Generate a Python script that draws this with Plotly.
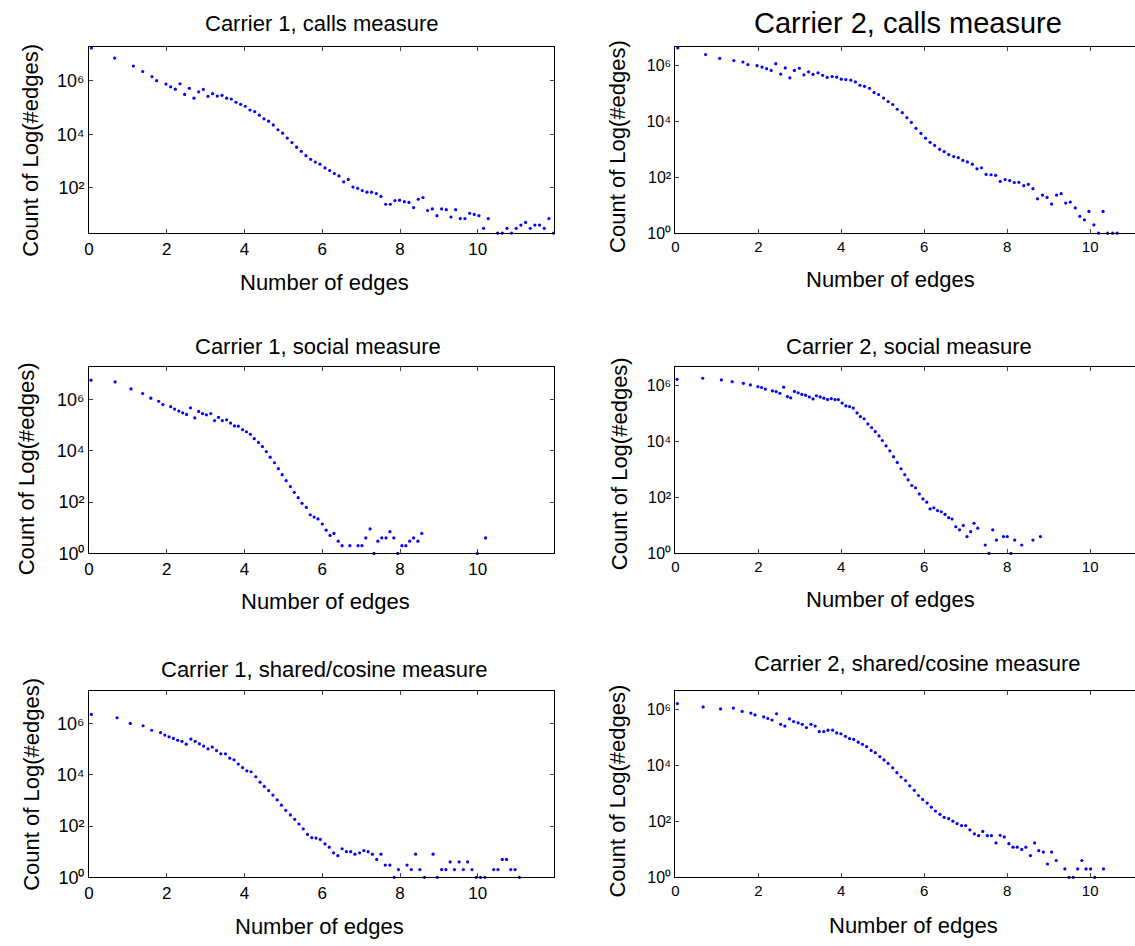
import plotly.graph_objects as go

W, H = 1135, 946
FONT = "Liberation Sans, Arial, Helvetica, sans-serif"

# ---------------- data (histogram of log(#edges): bin centre, count) ----------------
c1_calls_x = [0.06, 0.66, 1.14, 1.38, 1.62, 1.74, 1.98, 2.10, 2.22, 2.34, 2.46, 2.58, 2.70, 2.82, 2.94,
              3.06, 3.18, 3.30, 3.42, 3.54, 3.66, 3.78, 3.90, 4.02, 4.14, 4.26, 4.38, 4.50, 4.62, 4.74,
              4.86, 4.98, 5.10, 5.22, 5.34, 5.46, 5.58, 5.70, 5.82, 5.94, 6.07, 6.19, 6.31, 6.43, 6.55,
              6.67, 6.79, 6.91, 7.03, 7.15, 7.27, 7.39, 7.51, 7.63, 7.75, 7.87, 7.99, 8.11, 8.23, 8.35,
              8.47, 8.59, 8.71, 8.83, 8.95, 9.07, 9.19, 9.31, 9.43, 9.55, 9.67, 9.79, 9.91, 10.03, 10.15,
              10.27, 10.51, 10.63, 10.75, 10.87, 10.99, 11.11, 11.23, 11.35, 11.47, 11.59, 11.71, 11.83, 11.95]
c1_calls_n = [17000000, 7100000, 3600000, 2240000, 1450000, 1020000, 760000, 600000, 490000, 780000,
              310000, 525000, 224000, 389000, 479000, 263000, 331000, 269000, 288000, 224000,
              209000, 158000, 132000, 112000, 81000, 71000, 52000, 38000, 31000, 22400,
              14800, 11000, 7200, 4900, 3300, 2300, 1580, 1150, 910, 760,
              550, 440, 340, 275, 166, 204, 106, 95, 78, 68,
              68, 60, 47, 24, 24, 33, 34, 30, 28, 18,
              37, 43, 14, 16, 9, 16, 15, 8, 15, 7,
              7, 11, 10, 9, 3, 7,
              2, 2, 3, 2, 3, 4, 5, 3, 4, 4, 3, 7, 2]

c2_calls_x = [0.06, 0.73, 1.07, 1.41, 1.63, 1.75, 1.97, 2.09, 2.20, 2.31, 2.42, 2.54, 2.65, 2.76, 2.87,
              2.99, 3.10, 3.21, 3.32, 3.44, 3.55, 3.66, 3.78, 3.89, 4.00, 4.11, 4.23, 4.34, 4.45, 4.56,
              4.68, 4.79, 4.90, 5.02, 5.13, 5.24, 5.35, 5.47, 5.58, 5.69, 5.80, 5.92, 6.03, 6.14, 6.25,
              6.37, 6.48, 6.59, 6.71, 6.82, 6.93, 7.04, 7.16, 7.27, 7.38, 7.49, 7.61, 7.72, 7.83, 7.95,
              8.06, 8.17, 8.28, 8.40, 8.51, 8.62, 8.73, 8.85, 8.96, 9.07, 9.19, 9.30, 9.41, 9.52, 9.64,
              9.75, 9.86, 9.97, 10.09, 10.20, 10.31, 10.42, 10.54, 10.65]
c2_calls_n = [4200000, 2450000, 1780000, 1480000, 1320000, 1070000,
              980000, 870000, 760000, 660000, 1150000, 490000, 810000, 360000, 660000,
              790000, 460000, 590000, 480000, 540000, 440000, 370000, 400000, 380000, 320000,
              310000, 295000, 257000, 195000, 178000, 151000, 107000, 91000, 68000, 51000,
              40000, 27000, 20400, 13500, 9100, 5600, 3700, 2500, 1780, 1380,
              1000, 830, 645, 550, 500, 400, 355, 295, 200, 219,
              126, 123, 117, 71, 83, 76, 65, 66, 50, 56,
              39, 17, 23, 19, 11, 23, 26, 12, 13, 8,
              4, 3, 6, 2, 1, 6, 1, 1, 1]

c1_social_x = [0.05, 0.67, 1.08, 1.38, 1.59, 1.79, 1.90, 2.10, 2.20, 2.31, 2.41, 2.51, 2.61, 2.72, 2.82,
               2.92, 3.02, 3.13, 3.23, 3.33, 3.43, 3.54, 3.64, 3.74, 3.84, 3.95, 4.05, 4.15, 4.25, 4.36,
               4.46, 4.56, 4.66, 4.77, 4.87, 4.97, 5.07, 5.18, 5.28, 5.38, 5.48, 5.59, 5.69, 5.79, 5.89,
               6.00, 6.10, 6.20, 6.30, 6.41, 6.51, 6.71, 6.92, 7.02, 7.12, 7.23, 7.33, 7.43, 7.53, 7.64,
               7.74, 7.84, 7.94, 8.05, 8.15, 8.25, 8.35, 8.46, 8.56, 9.99, 10.20]
c1_social_n = [5600000, 4800000, 2570000, 1700000, 1120000, 850000, 630000,
               520000, 420000, 350000, 300000, 260000, 470000, 190000, 340000, 280000, 250000,
               280000, 150000, 200000, 150000, 160000, 120000, 93000, 91000, 66000, 55000,
               44000, 29500, 21000, 14500, 9300, 5600, 3400, 2000, 1170, 680,
               400, 240, 148, 89, 62, 32, 26, 22, 14, 8,
               5, 6, 3, 2, 2,
               2, 2, 4, 9, 1, 3, 4, 4, 7, 4, 1, 2, 2, 3, 4, 3, 6,
               1, 4]

c2_social_x = [0.04, 0.66, 1.11, 1.37, 1.64, 1.81, 1.99, 2.08, 2.17, 2.34, 2.43, 2.52, 2.61, 2.70, 2.78,
               2.87, 2.96, 3.05, 3.14, 3.23, 3.32, 3.40, 3.49, 3.58, 3.67, 3.76, 3.85, 3.93, 4.02, 4.11,
               4.20, 4.29, 4.38, 4.46, 4.55, 4.64, 4.73, 4.82, 4.91, 4.99, 5.08, 5.17, 5.26, 5.35, 5.44,
               5.53, 5.61, 5.70, 5.79, 5.88, 5.97, 6.06, 6.14, 6.23, 6.32, 6.41, 6.50, 6.59, 6.67, 6.76,
               6.85, 6.94, 7.03, 7.12, 7.20, 7.29, 7.47, 7.56, 7.65, 7.74, 7.91, 8.00, 8.09, 8.18, 8.35,
               8.62, 8.80]
c2_social_n = [1700000, 1860000, 1620000, 1410000, 1230000, 1070000, 930000, 870000, 760000,
               660000, 620000, 540000, 890000, 410000, 370000, 630000, 560000, 490000, 460000,
               400000, 340000, 440000, 400000, 360000, 320000, 350000, 320000, 320000, 240000,
               190000, 180000, 160000, 107000, 79000, 66000, 43000, 32000, 23000, 16000,
               11000, 7100, 4700, 2900, 1800, 1070, 660, 430, 270, 224,
               135, 89, 68, 39, 43, 34, 31, 25, 19, 17,
               9, 7, 10, 4, 6, 12, 8,
               2, 1, 7, 3,
               4, 4, 1, 3,
               2, 3, 4]

c1_shared_x = [0.06, 0.72, 1.06, 1.39, 1.61, 1.84, 1.95, 2.06, 2.17, 2.28, 2.39, 2.50, 2.62, 2.73, 2.84,
               2.95, 3.06, 3.17, 3.28, 3.39, 3.51, 3.62, 3.73, 3.84, 3.95, 4.06, 4.17, 4.29, 4.40, 4.51,
               4.62, 4.73, 4.84, 4.95, 5.06, 5.18, 5.29, 5.40, 5.51, 5.62, 5.73, 5.84, 5.95, 6.07, 6.18,
               6.29, 6.40, 6.51, 6.62, 6.73, 6.84, 6.96, 7.07, 7.18, 7.29, 7.40, 7.51, 7.62, 7.74, 7.85,
               7.96, 8.18, 8.29, 8.40, 8.51, 8.63, 8.85, 8.96, 9.07, 9.18, 9.29, 9.40, 9.52, 9.63, 9.74,
               9.85, 9.96, 10.07, 10.18, 10.41, 10.52, 10.63, 10.74, 10.85, 10.96, 11.07]
c1_shared_n = [2240000, 1660000, 1000000, 810000, 540000,
               440000, 350000, 300000, 260000, 220000, 200000, 155000, 245000, 200000, 160000,
               130000, 102000, 120000, 87000, 65000, 65000, 44000, 38000, 26000, 19000,
               14000, 13000, 8300, 5100, 3500, 2400, 1600, 1050, 650, 410,
               270, 182, 120, 78, 47, 35, 34, 30, 20, 15,
               9, 7, 13, 10, 10, 8, 9, 11, 10, 8,
               5, 8, 3, 3, 1, 2,
               3, 2, 8, 2, 1,
               8, 1, 2, 2, 4, 2, 4, 2, 4, 2, 1, 1, 1,
               2, 2, 5, 5, 2, 2, 1]

c2_shared_x = [0.05, 0.67, 1.09, 1.40, 1.61, 1.82, 1.92, 2.13, 2.23, 2.33, 2.44, 2.54, 2.64, 2.75, 2.85,
               2.96, 3.06, 3.16, 3.27, 3.37, 3.47, 3.58, 3.68, 3.79, 3.89, 3.99, 4.10, 4.20, 4.30, 4.41,
               4.51, 4.61, 4.72, 4.82, 4.93, 5.03, 5.13, 5.24, 5.34, 5.44, 5.55, 5.65, 5.76, 5.86, 5.96,
               6.07, 6.17, 6.27, 6.38, 6.48, 6.59, 6.69, 6.79, 6.90, 7.00, 7.10, 7.21, 7.31, 7.41, 7.52,
               7.62, 7.73, 7.83, 7.93, 8.04, 8.14, 8.24, 8.35, 8.45, 8.56, 8.66, 8.76, 8.87, 8.97, 9.07,
               9.18, 9.39, 9.49, 9.59, 9.70, 9.80, 9.90, 10.01, 10.11, 10.32]
c2_shared_n = [1660000, 1260000, 1070000, 1150000, 870000, 760000, 650000,
               560000, 490000, 430000, 720000, 300000, 260000, 470000, 380000, 340000, 300000,
               230000, 300000, 260000, 166000, 166000, 186000, 186000, 148000, 138000, 112000,
               93000, 87000, 69000, 58000, 48000, 35000, 29000, 21000, 16000, 12000,
               8300, 5600, 3900, 2900, 1900, 1300, 850, 615, 455, 325,
               235, 180, 141, 126, 102, 84, 71, 71, 50, 36,
               31, 44, 31, 31, 17, 32, 28, 16, 12, 12,
               10, 12, 6, 17, 9, 8, 3, 8, 4,
               2, 1, 1, 2, 4, 2, 2, 1,
               2]

titles = ["Carrier 1, calls measure", "Carrier 2, calls measure",
          "Carrier 1, social measure", "Carrier 2, social measure",
          "Carrier 1, shared/cosine measure", "Carrier 2, shared/cosine measure"]
x_label = "Number of edges"
y_label = "Count of Log(#edges)"
x_ticks = [0, 2, 4, 6, 8, 10]
y_ticks = [1, 1e2, 1e4, 1e6]
y_ticktext = ["10\u2070", "10\u00b2", "10\u2074", "10\u2076"]

series = [(c1_calls_x, c1_calls_n), (c2_calls_x, c2_calls_n),
          (c1_social_x, c1_social_n), (c2_social_x, c2_social_n),
          (c1_shared_x, c1_shared_n), (c2_shared_x, c2_shared_n)]

# ---------------- layout geometry (pixels) ----------------
col_px = [(84.4, 551.0), (673.3, 1135.0)]
row_px = [(47.7, 235.7), (371.0, 559.3), (698.7, 886.7)]
x_ranges = [[0, 11.95], [0, 11.08]]
y_ranges = [[0.296, 7.26], [0, 6.65], [0, 7.26], [0, 6.67], [0, 7.25], [0, 6.66]]
tick_sizes = [17, 15]

title_pos = [(318, 24, 22), (907, 23.5, 29), (314, 350, 22), (908, 350.5, 22), (320, 677, 22), (916, 670.5, 22)]
xlab_pos = [(320.8, 285.5), (889.5, 282.7), (322, 608.3), (889, 606), (316, 936.5), (913, 935)]
ylab_pos = [(24.8, 151.7), (615.7, 147.5), (22.4, 474), (616.8, 469), (25.8, 792.5), (615.7, 799)]

fig = go.Figure()
layout = dict(width=W, height=H, margin=dict(l=0, r=0, t=0, b=0), autosize=False,
              paper_bgcolor="white", plot_bgcolor="white", showlegend=False,
              font=dict(family=FONT, color="black"))
annotations = []

for k, (xs, ys) in enumerate(series):
    r, c = divmod(k, 2)
    sfx = "" if k == 0 else str(k + 1)
    fig.add_trace(go.Scatter(x=xs, y=ys, mode="markers", xaxis="x" + sfx, yaxis="y" + sfx,
                             marker=dict(color="#0000ff", size=3.2, line=dict(width=0)),
                             cliponaxis=False, hoverinfo="x+y"))
    x0, x1 = col_px[c]
    y0, y1 = row_px[r]
    layout["xaxis" + sfx] = dict(domain=[x0 / W, x1 / W], anchor="y" + sfx, range=x_ranges[c],
                                 tickvals=x_ticks, ticks="inside", ticklen=4, tickwidth=1, tickcolor="#444",
                                 showline=True, linecolor="black", linewidth=1, mirror="ticks",
                                 showgrid=False, zeroline=False,
                                 tickfont=dict(size=tick_sizes[c], family=FONT, color="black"))
    layout["yaxis" + sfx] = dict(domain=[1 - y1 / H, 1 - y0 / H], anchor="x" + sfx, type="log",
                                 range=y_ranges[k], tickvals=y_ticks, ticktext=y_ticktext,
                                 ticks="inside", ticklen=4, tickwidth=1, tickcolor="#444",
                                 showline=True, linecolor="black", linewidth=1,
                                 mirror="ticks" if c == 0 else False,
                                 showgrid=False, zeroline=False,
                                 tickfont=dict(size=tick_sizes[c] + 1, family=FONT, color="black"))
    tx, ty, ts = title_pos[k]
    annotations.append(dict(text=titles[k], x=tx / W, y=1 - ty / H, xref="paper", yref="paper",
                            xanchor="center", yanchor="middle", showarrow=False,
                            font=dict(size=ts, family=FONT, color="black")))
    lx, ly = xlab_pos[k]
    annotations.append(dict(text=x_label, x=lx / W, y=1 - ly / H, xref="paper", yref="paper",
                            xanchor="center", yanchor="middle", showarrow=False,
                            font=dict(size=22, family=FONT, color="black")))
    vx, vy = ylab_pos[k]
    annotations.append(dict(text=y_label, x=vx / W, y=1 - vy / H, xref="paper", yref="paper",
                            xanchor="center", yanchor="middle", showarrow=False, textangle=-90,
                            font=dict(size=22, family=FONT, color="black")))

layout["annotations"] = annotations
fig.update_layout(**layout)
fig.write_html("out.html", config={"displayModeBar": False},
               post_script="document.body.style.margin='0px';document.body.style.overflow='hidden';")
